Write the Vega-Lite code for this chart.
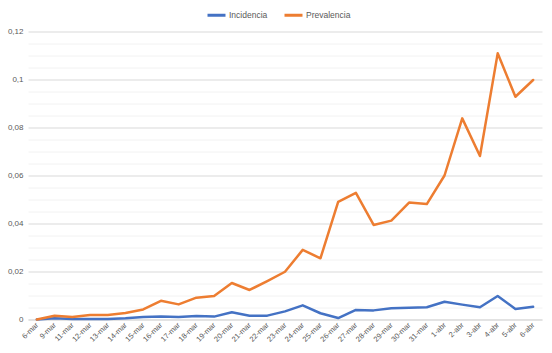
{
  "$schema": "https://vega.github.io/schema/vega-lite/v6.json",
  "width": 514,
  "height": 288,
  "autosize": {"type": "none"},
  "padding": {"left": 28, "top": 31.5, "right": 10, "bottom": 33.5},
  "background": "white",
  "config": {
    "view": {"stroke": null},
    "font": "Liberation Sans"
  },
  "data": {
    "values": [
      {"fecha": "6-mar", "serie": "Incidencia", "valor": 0.0},
      {"fecha": "9-mar", "serie": "Incidencia", "valor": 0.0005},
      {"fecha": "11-mar", "serie": "Incidencia", "valor": 0.0002},
      {"fecha": "12-mar", "serie": "Incidencia", "valor": 0.0002},
      {"fecha": "13-mar", "serie": "Incidencia", "valor": 0.0002},
      {"fecha": "14-mar", "serie": "Incidencia", "valor": 0.0005},
      {"fecha": "15-mar", "serie": "Incidencia", "valor": 0.001},
      {"fecha": "16-mar", "serie": "Incidencia", "valor": 0.0013},
      {"fecha": "17-mar", "serie": "Incidencia", "valor": 0.001},
      {"fecha": "18-mar", "serie": "Incidencia", "valor": 0.0015},
      {"fecha": "19-mar", "serie": "Incidencia", "valor": 0.0012},
      {"fecha": "20-mar", "serie": "Incidencia", "valor": 0.003},
      {"fecha": "21-mar", "serie": "Incidencia", "valor": 0.0016},
      {"fecha": "22-mar", "serie": "Incidencia", "valor": 0.0016},
      {"fecha": "23-mar", "serie": "Incidencia", "valor": 0.0034},
      {"fecha": "24-mar", "serie": "Incidencia", "valor": 0.0059},
      {"fecha": "25-mar", "serie": "Incidencia", "valor": 0.0026},
      {"fecha": "26-mar", "serie": "Incidencia", "valor": 0.0006},
      {"fecha": "27-mar", "serie": "Incidencia", "valor": 0.004},
      {"fecha": "28-mar", "serie": "Incidencia", "valor": 0.0038},
      {"fecha": "29-mar", "serie": "Incidencia", "valor": 0.0047},
      {"fecha": "30-mar", "serie": "Incidencia", "valor": 0.0049},
      {"fecha": "31-mar", "serie": "Incidencia", "valor": 0.0051},
      {"fecha": "1-abr", "serie": "Incidencia", "valor": 0.0074},
      {"fecha": "2-abr", "serie": "Incidencia", "valor": 0.0062},
      {"fecha": "3-abr", "serie": "Incidencia", "valor": 0.0051},
      {"fecha": "4-abr", "serie": "Incidencia", "valor": 0.0098},
      {"fecha": "5-abr", "serie": "Incidencia", "valor": 0.0044},
      {"fecha": "6-abr", "serie": "Incidencia", "valor": 0.0053},
      {"fecha": "6-mar", "serie": "Prevalencia", "valor": 0.0},
      {"fecha": "9-mar", "serie": "Prevalencia", "valor": 0.0016},
      {"fecha": "11-mar", "serie": "Prevalencia", "valor": 0.001},
      {"fecha": "12-mar", "serie": "Prevalencia", "valor": 0.0019},
      {"fecha": "13-mar", "serie": "Prevalencia", "valor": 0.0019},
      {"fecha": "14-mar", "serie": "Prevalencia", "valor": 0.0027},
      {"fecha": "15-mar", "serie": "Prevalencia", "valor": 0.0042},
      {"fecha": "16-mar", "serie": "Prevalencia", "valor": 0.0078},
      {"fecha": "17-mar", "serie": "Prevalencia", "valor": 0.0063},
      {"fecha": "18-mar", "serie": "Prevalencia", "valor": 0.0091},
      {"fecha": "19-mar", "serie": "Prevalencia", "valor": 0.0098},
      {"fecha": "20-mar", "serie": "Prevalencia", "valor": 0.0152},
      {"fecha": "21-mar", "serie": "Prevalencia", "valor": 0.0123},
      {"fecha": "22-mar", "serie": "Prevalencia", "valor": 0.016},
      {"fecha": "23-mar", "serie": "Prevalencia", "valor": 0.0199},
      {"fecha": "24-mar", "serie": "Prevalencia", "valor": 0.029},
      {"fecha": "25-mar", "serie": "Prevalencia", "valor": 0.0255},
      {"fecha": "26-mar", "serie": "Prevalencia", "valor": 0.049},
      {"fecha": "27-mar", "serie": "Prevalencia", "valor": 0.0528},
      {"fecha": "28-mar", "serie": "Prevalencia", "valor": 0.0394},
      {"fecha": "29-mar", "serie": "Prevalencia", "valor": 0.0412},
      {"fecha": "30-mar", "serie": "Prevalencia", "valor": 0.0487},
      {"fecha": "31-mar", "serie": "Prevalencia", "valor": 0.0481},
      {"fecha": "1-abr", "serie": "Prevalencia", "valor": 0.06},
      {"fecha": "2-abr", "serie": "Prevalencia", "valor": 0.0838},
      {"fecha": "3-abr", "serie": "Prevalencia", "valor": 0.0681},
      {"fecha": "4-abr", "serie": "Prevalencia", "valor": 0.1109},
      {"fecha": "5-abr", "serie": "Prevalencia", "valor": 0.0928},
      {"fecha": "6-abr", "serie": "Prevalencia", "valor": 0.0998}
    ]
  },
  "mark": {"type": "line", "strokeWidth": 2.5, "strokeJoin": "round", "strokeCap": "round"},
  "encoding": {
    "x": {
      "field": "fecha",
      "type": "ordinal",
      "sort": null,
      "scale": {"type": "point", "padding": 0.5},
      "axis": {
        "title": null,
        "labelAngle": -45,
        "labelAlign": "right",
        "labelBaseline": "middle",
        "labelFontSize": 7.5,
        "labelColor": "#595959",
        "labelPadding": 4,
        "ticks": false,
        "domainColor": "#d9d9d9",
        "grid": false
      }
    },
    "y": {
      "field": "valor",
      "type": "quantitative",
      "scale": {"domain": [0, 0.12], "nice": false},
      "axis": {
        "title": null,
        "values": [0, 0.005, 0.01, 0.015, 0.02, 0.025, 0.03, 0.035, 0.04, 0.045, 0.05, 0.055, 0.06, 0.065, 0.07, 0.075, 0.08, 0.085, 0.09, 0.095, 0.1, 0.105, 0.11, 0.115, 0.12],
        "labelExpr": "round(datum.value * 1000) % 20 == 0 ? replace(format(datum.value, '~g'), '.', ',') : ''",
        "labelFontSize": 8,
        "labelColor": "#595959",
        "labelPadding": 5,
        "ticks": false,
        "domain": false,
        "grid": true,
        "gridColor": {"condition": {"test": "round(datum.value * 1000) % 20 == 0", "value": "#d9d9d9"}, "value": "#f2f2f2"},
        "gridWidth": 1
      }
    },
    "color": {
      "field": "serie",
      "type": "nominal",
      "scale": {"domain": ["Incidencia", "Prevalencia"], "range": ["#4472C4", "#ED7D31"]},
      "legend": {
        "title": null,
        "orient": "none",
        "direction": "horizontal",
        "legendX": 178,
        "legendY": -27,
        "symbolType": "stroke",
        "symbolSize": 324,
        "symbolStrokeWidth": 3,
        "labelFontSize": 8.5,
        "labelColor": "#595959",
        "labelOffset": 2,
        "columnSpacing": 8
      }
    }
  }
}
